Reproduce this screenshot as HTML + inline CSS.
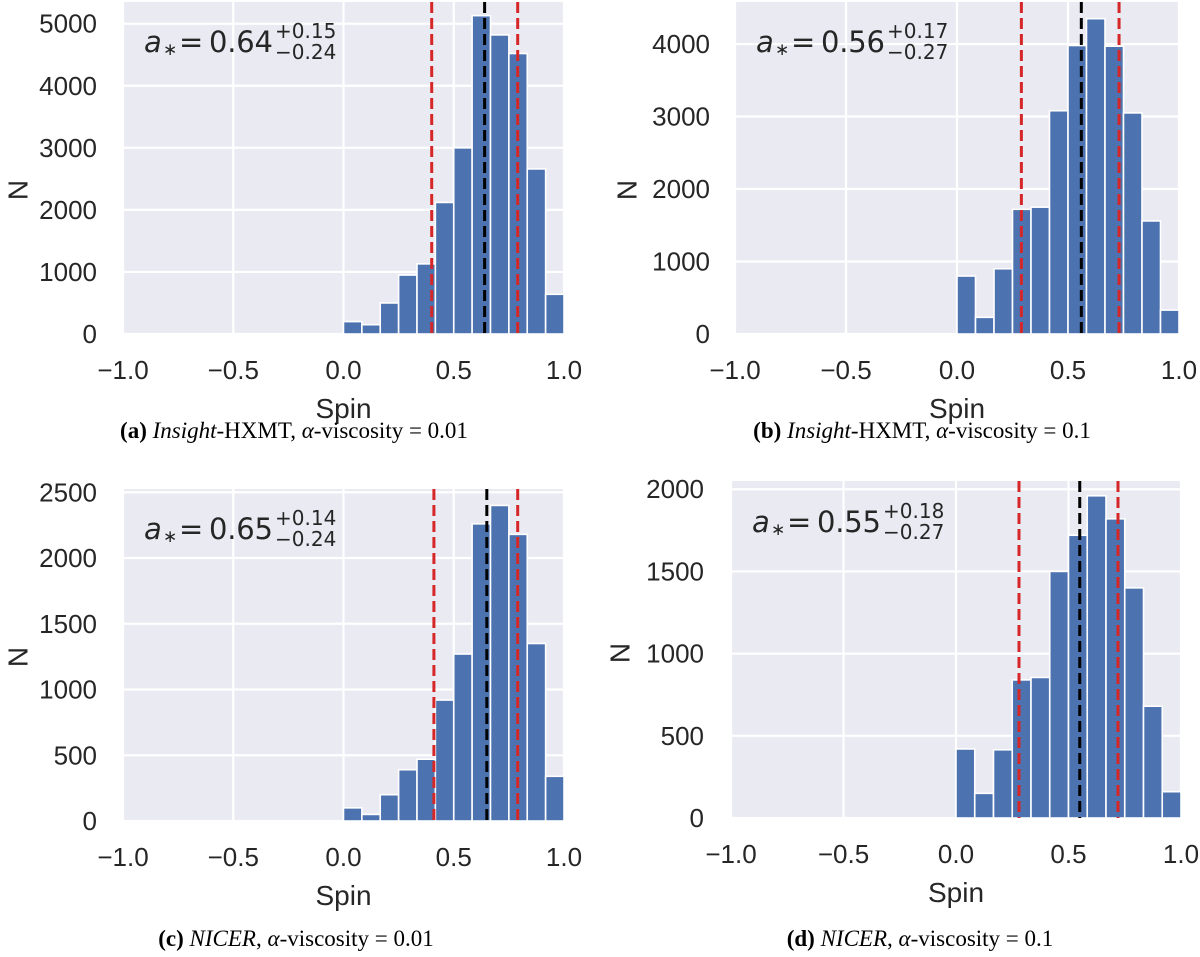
<!DOCTYPE html>
<html><head><meta charset="utf-8"><style>
body{margin:0;background:#fff;width:1200px;height:957px;overflow:hidden}
svg{position:absolute;left:0;top:0}
.cap{position:absolute;font-family:"Liberation Serif",serif;font-size:23px;color:#000;white-space:nowrap;transform:translateX(-50%)}
</style></head><body>
<svg id="fig" width="1200" height="957"></svg>
<div class="cap" style="left:294px;top:418px"><b>(a)</b> <i>Insight</i>-HXMT, <i>α</i>-viscosity = 0.01</div>
<div class="cap" style="left:922px;top:418px"><b>(b)</b> <i>Insight</i>-HXMT, <i>α</i>-viscosity = 0.1</div>
<div class="cap" style="left:296px;top:926px"><b>(c)</b> <i>NICER</i>, <i>α</i>-viscosity = 0.01</div>
<div class="cap" style="left:920px;top:926px"><b>(d)</b> <i>NICER</i>, <i>α</i>-viscosity = 0.1</div>
<script>
const binEdgesStart = 0, binWidth = 1/12;
const countsA = [200,150,500,950,1130,2120,3000,5130,4820,4520,2660,640];
const countsB = [800,230,900,1720,1750,3080,3980,4350,3970,3050,1560,330];
const countsC = [100,50,200,390,470,920,1270,2260,2400,2180,1350,340];
const countsD = [420,150,415,840,855,1500,1720,1960,1820,1400,680,160];
const linesA = [0.40,0.64,0.79];
const linesB = [0.29,0.56,0.73];
const linesC = [0.41,0.65,0.79];
const linesD = [0.28,0.55,0.72];
const ticksA = [0,1000,2000,3000,4000,5000];
const ticksB = [0,1000,2000,3000,4000];
const ticksC = [0,500,1000,1500,2000,2500];
const ticksD = [0,500,1000,1500,2000];
const xTicks = [-1.0,-0.5,0.0,0.5,1.0];
const annoA = ["0.64","+0.15","−0.24"];
const annoB = ["0.56","+0.17","−0.27"];
const annoC = ["0.65","+0.14","−0.24"];
const annoD = ["0.55","+0.18","−0.27"];

const NS="http://www.w3.org/2000/svg";
const svg=document.getElementById('fig');
function mk(tag,attrs,parent){const e=document.createElementNS(NS,tag);for(const k in attrs)e.setAttribute(k,attrs[k]);(parent||svg).appendChild(e);return e;}

const panels=[
 {id:'a',counts:countsA,lines:linesA,ticks:ticksA,anno:annoA,L:123,R:564,B:334,T:2,ymax:5350,tickR:97,nX:18,nY:190,tickY:379,spinY:418,annoX:144,annoY:52},
 {id:'b',counts:countsB,lines:linesB,ticks:ticksB,anno:annoB,L:735,R:1179,B:334,T:2,ymax:4580,tickR:710,nX:627,nY:190,tickY:379,spinY:418,annoX:756,annoY:52},
 {id:'c',counts:countsC,lines:linesC,ticks:ticksC,anno:annoC,L:123,R:564,B:821,T:489,ymax:2525,tickR:97,nX:18,nY:657,tickY:866,spinY:905,annoX:144,annoY:539},
 {id:'d',counts:countsD,lines:linesD,ticks:ticksD,anno:annoD,L:731,R:1181,B:818,T:481,ymax:2050,tickR:704,nX:620,nY:653,tickY:863,spinY:902,annoX:752,annoY:532}
];
const font='"Liberation Sans",sans-serif';
const dv='"DejaVu Sans",sans-serif';
panels.forEach(p=>{
 const g=mk('g',{});
 
 
 const xs=v=>p.L+(v+1)/2*(p.R-p.L);
 const ys=v=>p.B-v/p.ymax*(p.B-p.T);
 const bg=mk('rect',{x:p.L,y:p.T,width:p.R-p.L,height:p.B-p.T,fill:'#eaeaf2'},g);
 
 
 xTicks.forEach(t=>{
  const gl=mk('line',{x1:xs(t),x2:xs(t),y1:p.T,y2:p.B,stroke:'#fff','stroke-width':2.2},g);
  
  
  const tl=mk('text',{x:xs(t),y:p.tickY,'text-anchor':'middle','font-family':font,'font-size':26,fill:'#262626'},g);
  tl.textContent=(t<0?'−':'')+Math.abs(t).toFixed(1);
  
  
 });
 p.ticks.forEach(t=>{
  const gl=mk('line',{x1:p.L,x2:p.R,y1:ys(t),y2:ys(t),stroke:'#fff','stroke-width':2.2},g);
  
  
  const tl=mk('text',{x:p.tickR,y:ys(t)+9,'text-anchor':'end','font-family':font,'font-size':26,fill:'#262626'},g);
  tl.textContent=String(t);
  
  
 });
 p.counts.forEach((c,i)=>{
  const x0=xs(binEdgesStart+i*binWidth), x1=xs(binEdgesStart+(i+1)*binWidth);
  const r=mk('rect',{x:x0,y:ys(c),width:x1-x0,height:p.B-ys(c),fill:'#4c72b0',stroke:'#fff','stroke-width':1.6},g);
  
  
 });
 p.lines.forEach((v,i)=>{
  const l=mk('line',{x1:xs(v),x2:xs(v),y1:p.T,y2:p.B,stroke:i===1?'#000':'#d62728','stroke-width':3,'stroke-dasharray':'11,5'},g);
  
  
 });
 const xl=mk('text',{x:(p.L+p.R)/2,y:p.spinY,'text-anchor':'middle','font-family':font,'font-size':28,fill:'#262626'},g);
 xl.textContent='Spin';
 
 
 const yl=mk('text',{x:p.nX,y:p.nY,'text-anchor':'middle','font-family':font,'font-size':28,fill:'#262626',transform:`rotate(-90 ${p.nX} ${p.nY})`,'dominant-baseline':'central'},g);
 yl.textContent='N';
 
 
 const X=p.annoX,Y=p.annoY;
 const a1=mk('text',{x:X,y:Y,'font-family':dv,'font-size':29,'font-style':'italic',fill:'#262626'},g);
 a1.textContent='a';
 
 
 const a2=mk('text',{x:X+19,y:Y+3,'font-family':dv,'font-size':17,fill:'#262626'},g);
 a2.textContent='∗';
 
 
 const a3=mk('text',{x:X+35,y:Y,'font-family':dv,'font-size':29,fill:'#262626'},g);
 a3.textContent='=';
 
 
 const a4=mk('text',{x:X+65,y:Y,'font-family':dv,'font-size':29,fill:'#262626',textLength:64},g);
 a4.textContent=p.anno[0];
 
 
 const sup=mk('text',{x:X+131,y:Y-14,'font-family':dv,'font-size':20,fill:'#262626'},g);
 sup.textContent=p.anno[1];
 
 
 const sub=mk('text',{x:X+131,y:Y+7,'font-family':dv,'font-size':20,fill:'#262626'},g);
 sub.textContent=p.anno[2];
 
 
});
</script>
</body></html>
